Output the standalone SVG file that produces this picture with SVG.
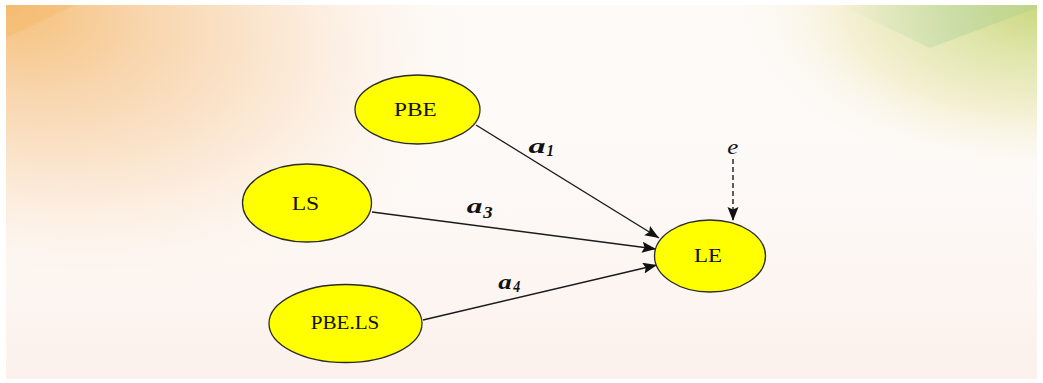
<svg xmlns="http://www.w3.org/2000/svg" width="1043" height="383" viewBox="0 0 1043 383">
  <defs>
    <style>
      .node ellipse { fill: #ffff00; stroke: #2b2b2b; stroke-width: 1.3; }
      .node text { font-family: "Liberation Serif", "Times New Roman", serif; font-size: 19px; fill: #111; }
      .edge { stroke: #1a1a1a; stroke-width: 1.4; fill: none; marker-end: url(#arrow); }
      .dashed { stroke-dasharray: 5 3; }
      .lbl { font-family: "Liberation Serif", "Times New Roman", serif; font-style: italic; fill: #111; }
      .coef { font-size: 21px; font-weight: bold; }
      .idx { font-size: 16px; font-weight: bold; }
    </style>
    <marker id="arrow" markerUnits="userSpaceOnUse" markerWidth="15" markerHeight="12" refX="14" refY="5.5" orient="auto">
      <path d="M0,0 L14,5.5 L0,11 L2.5,5.5 z" fill="#111"/>
    </marker>
    <radialGradient id="warm" cx="0" cy="0" r="1" gradientUnits="userSpaceOnUse" gradientTransform="translate(6 5) rotate(12) scale(480 290)">
      <stop offset="0" stop-color="#f6c07a"/>
      <stop offset="0.3" stop-color="#f8d6ae"/>
      <stop offset="0.65" stop-color="#fcecdd"/>
      <stop offset="1" stop-color="#fdf8f3" stop-opacity="0"/>
    </radialGradient>
    <radialGradient id="cool" cx="0" cy="0" r="1" gradientUnits="userSpaceOnUse" gradientTransform="translate(1040 5) scale(300 170)">
      <stop offset="0" stop-color="#cbd77e"/>
      <stop offset="0.3" stop-color="#dfe6ab"/>
      <stop offset="0.65" stop-color="#f5f0d4"/>
      <stop offset="1" stop-color="#fdf9f2" stop-opacity="0"/>
    </radialGradient>
    <linearGradient id="band" x1="0" y1="0" x2="1" y2="0">
      <stop offset="0" stop-color="#b8d7b0" stop-opacity="0"/>
      <stop offset="0.6" stop-color="#b6d4a0" stop-opacity="0.5"/>
      <stop offset="1" stop-color="#b9d38a" stop-opacity="0.65"/>
    </linearGradient>
    <linearGradient id="glow" x1="0" y1="0" x2="0" y2="1">
      <stop offset="0" stop-color="#ffffff" stop-opacity="0"/>
      <stop offset="1" stop-color="#fbeee8" stop-opacity="0.8"/>
    </linearGradient>
  </defs>

  <!-- page and soft backdrop -->
  <rect x="0" y="0" width="1043" height="383" fill="#ffffff"/>
  <rect x="6" y="5" width="1031" height="374" fill="#fdfaf7"/>
  <rect x="6" y="5" width="1031" height="374" fill="url(#glow)"/>
  <rect x="6" y="5" width="1031" height="374" fill="url(#warm)"/>
  <rect x="6" y="5" width="1031" height="374" fill="url(#cool)"/>
  <polygon points="6,5 75,5 6,38" fill="#f4b460" opacity="0.35"/>
  <polygon points="840,5 1037,5 1037,8 930,48" fill="url(#band)"/>

  <!-- connectors -->
  <g id="connectors">
    <line class="edge" x1="476" y1="125" x2="659" y2="238"/>
    <line class="edge" x1="372" y1="212" x2="656" y2="249"/>
    <line class="edge" x1="423" y1="320" x2="657" y2="265"/>
    <line class="edge dashed" x1="733" y1="159" x2="733" y2="221"/>
    <text class="lbl coef" x="528.5" y="152.7" textLength="17" lengthAdjust="spacingAndGlyphs">a</text>
    <text class="lbl idx" x="546.5" y="156" textLength="7.5" lengthAdjust="spacingAndGlyphs">1</text>
    <text class="lbl coef" x="466.7" y="213.3" textLength="15.6" lengthAdjust="spacingAndGlyphs">a</text>
    <text class="lbl idx" x="483.3" y="218.3" textLength="9.4" lengthAdjust="spacingAndGlyphs">3</text>
    <text class="lbl coef" x="498.3" y="289" textLength="13.4" lengthAdjust="spacingAndGlyphs">a</text>
    <text class="lbl idx" x="513.3" y="292.3" textLength="7" lengthAdjust="spacingAndGlyphs">4</text>
    <text class="lbl" x="727.3" y="154" font-size="20" textLength="11" lengthAdjust="spacingAndGlyphs">e</text>
  </g>

  <!-- nodes -->
  <g id="node-pbe" class="node">
    <ellipse cx="417.5" cy="109.5" rx="62.5" ry="34.5"/>
    <text x="394" y="115.7" textLength="42.7" lengthAdjust="spacingAndGlyphs">PBE</text>
  </g>
  <g id="node-ls" class="node">
    <ellipse cx="307" cy="203" rx="64.5" ry="39"/>
    <text x="291.7" y="210" textLength="27.6" lengthAdjust="spacingAndGlyphs">LS</text>
  </g>
  <g id="node-pbels" class="node">
    <ellipse cx="345.5" cy="323.5" rx="76.5" ry="39"/>
    <text x="310.7" y="329.3" textLength="68.6" lengthAdjust="spacingAndGlyphs">PBE.LS</text>
  </g>
  <g id="node-le" class="node">
    <ellipse cx="710" cy="256" rx="55.5" ry="36"/>
    <text x="694" y="261.7" textLength="28" lengthAdjust="spacingAndGlyphs">LE</text>
  </g>
</svg>
